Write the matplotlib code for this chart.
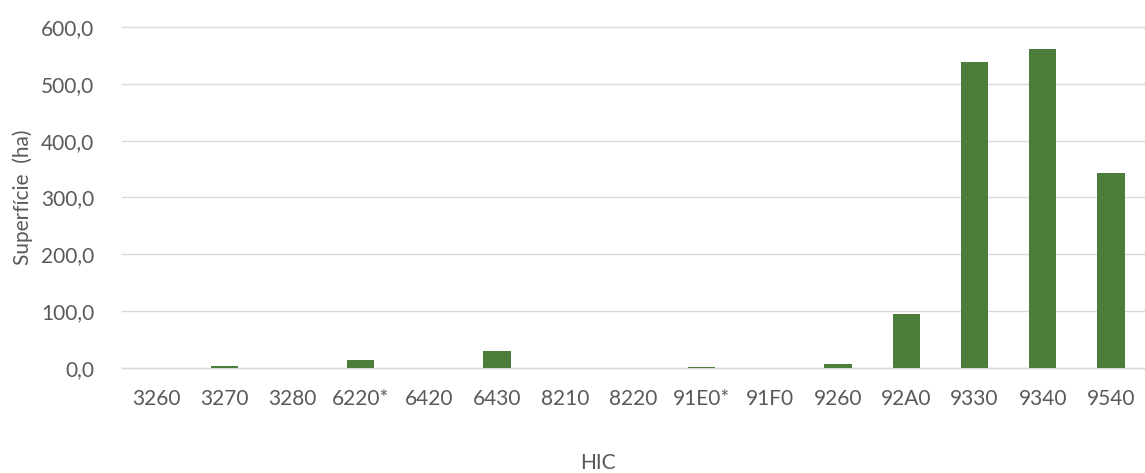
import matplotlib
matplotlib.use("Agg")
import matplotlib.pyplot as plt
from matplotlib.ticker import FuncFormatter

plt.rcParams["font.family"] = ["Lato", "DejaVu Sans"]

# Habitat codes and their surface (ha)
hic_codes = ["3260", "3270", "3280", "6220*", "6420", "6430", "8210", "8220",
             "91E0*", "91F0", "9260", "92A0", "9330", "9340", "9540"]
surface_ha = [0.3, 2.8, 0.4, 14.0, 0.5, 29.5, 0.3, 0.3,
              2.2, 0.3, 6.5, 95.0, 539.0, 562.0, 343.0]

bar_color = "#4A7E3A"
grid_color = "#D9D9D9"
text_color = "#595959"

fig = plt.figure(figsize=(11.45, 4.73), dpi=100)
ax = fig.add_axes([0.1066, 0.222, 0.8934, 0.721])

x = range(len(hic_codes))
ax.bar(x, surface_ha, width=0.4, color=bar_color, zorder=3)

ax.set_xlim(-0.5, len(hic_codes) - 0.5)
ax.set_ylim(0, 600)
ax.set_yticks(range(0, 601, 100))
ax.yaxis.set_major_formatter(FuncFormatter(lambda v, _: f"{v:.1f}".replace(".", ",")))
ax.set_xticks(list(x))
ax.set_xticklabels(hic_codes)

ax.grid(axis="y", color=grid_color, linewidth=1.0, zorder=0)
for side in ("top", "right", "left"):
    ax.spines[side].set_visible(False)
ax.spines["bottom"].set_color(grid_color)
ax.spines["bottom"].set_linewidth(1.0)
ax.tick_params(axis="both", length=0, labelsize=15, colors=text_color)
ax.tick_params(axis="x", pad=15)
ax.tick_params(axis="y", pad=20)
for gl in ax.get_ygridlines():
    gl.set_clip_on(False)

ax.set_ylabel("Superfície  (ha)", fontsize=15, color=text_color)
ax.yaxis.set_label_coords(-0.087, 0.5)
ax.set_xlabel("HIC", fontsize=15, color=text_color)
ax.xaxis.set_label_coords(0.465, -0.25)

fig.savefig("out.png", dpi=100)
